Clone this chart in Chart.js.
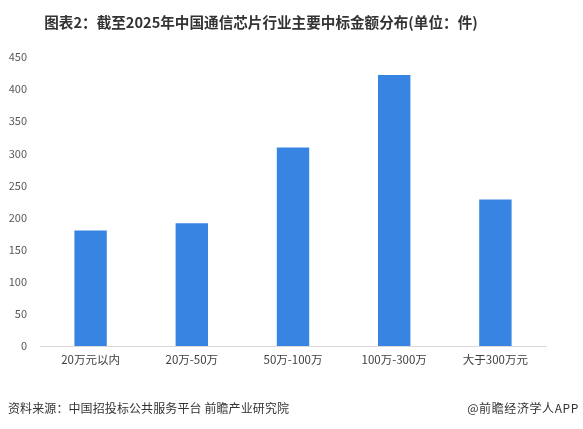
<!DOCTYPE html>
<html>
<head>
<meta charset="utf-8">
<script src="https://cdn.jsdelivr.net/npm/chart.js@4/dist/chart.umd.min.js"></script>
<style>
    html, body { margin: 0; padding: 0; background: #fff; }
    #wrap { position: relative; width: 583px; height: 429px; overflow: hidden; }
    #chart { position: absolute; left: 0; top: 0; }
    .txt { position: absolute; white-space: nowrap; font-family: "Noto Sans CJK SC", "Noto Sans", sans-serif; }
    #title { left: 0; width: 522px; top: 10px; text-align: center; font-size: 14.6px; font-weight: bold; color: #333; line-height: 24px; }
    #source { left: 8px; top: 399px; font-size: 12px; color: #333; line-height: 18px; letter-spacing: 0.1px; }
    #brand { right: 4px; top: 399px; font-size: 12px; color: #333; line-height: 18px; letter-spacing: 0.6px; }
</style>
</head>
<body>
<div id="wrap">
    <canvas id="chart" width="583" height="429"></canvas>
    <div class="txt" id="title">图表2：截至2025年中国通信芯片行业主要中标金额分布(单位：件)</div>
    <div class="txt" id="source">资料来源：中国招投标公共服务平台 前瞻产业研究院</div>
    <div class="txt" id="brand">@前瞻经济学人APP</div>
</div>
<script>
// 中标金额区间
const categories = ['20万元以内', '20万-50万', '50万-100万', '100万-300万', '大于300万元'];
// 中标数量（件）
const counts = [180, 191, 309, 422, 228];
// y 轴刻度
const yMax = 450;
const yStep = 50;

const barColor = '#3884e2';

const ctx = document.getElementById('chart').getContext('2d');
new Chart(ctx, {
    type: 'bar',
    data: {
        labels: categories,
        datasets: [{
            label: '中标数量',
            data: counts,
            backgroundColor: barColor,
            borderWidth: 0,
            barPercentage: 0.32,
            categoryPercentage: 1.0
        }]
    },
    options: {
        responsive: false,
        animation: false,
        layout: {
            padding: { left: 8, right: 37, top: 57, bottom: 0 }
        },
        plugins: {
            legend: { display: false },
            tooltip: { enabled: false }
        },
        scales: {
            x: {
                grid: { display: false, drawTicks: false },
                border: { display: true, color: '#d9d9d9', width: 1 },
                ticks: {
                    color: '#404040',
                    padding: 7,
                    maxRotation: 0,
                    font: { family: '"Noto Sans CJK SC", sans-serif', size: 11.5 }
                },
                afterFit: function(scale) { scale.height = 83; }
            },
            y: {
                min: 0,
                max: yMax,
                grid: { display: false, drawTicks: false },
                border: { display: false },
                ticks: {
                    stepSize: yStep,
                    color: '#595959',
                    padding: 13,
                    font: { family: '"Noto Sans CJK SC", sans-serif', size: 11 }
                },
                afterFit: function(scale) { scale.width = 32; }
            }
        }
    }
});
</script>
</body>
</html>
